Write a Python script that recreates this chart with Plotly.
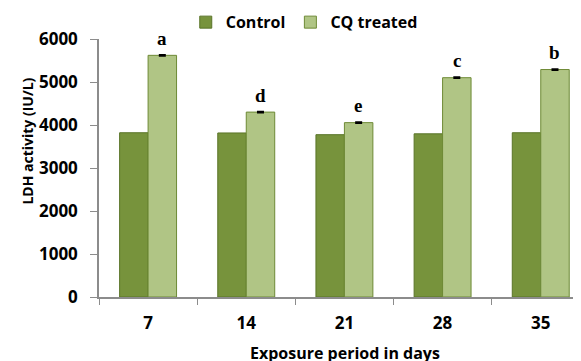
import plotly.graph_objects as go

days = ["7", "14", "21", "28", "35"]
control = [3820, 3815, 3775, 3795, 3820]
cq_treated = [5620, 4300, 4055, 5100, 5290]
cq_err = [15, 15, 15, 15, 15]
letters = ["a", "d", "e", "c", "b"]
y_ticks = [0, 1000, 2000, 3000, 4000, 5000, 6000]

FONT = "Open Sans"
fig = go.Figure()
fig.add_trace(go.Bar(
    x=days, y=control, name="Control",
    marker=dict(color="#77933C", line=dict(color="#5A7428", width=1)),
))
fig.add_trace(go.Bar(
    x=days, y=cq_treated, name="CQ treated",
    marker=dict(color="#B0C585", line=dict(color="#6E8A36", width=1)),
    error_y=dict(type="data", array=cq_err, visible=True, color="black", thickness=1.5, width=3.5),
))

for i, (v, l) in enumerate(zip(cq_treated, letters)):
    fig.add_annotation(x=i, y=v, text="<b>" + l + "</b>", showarrow=False, xshift=14, yshift=17,
                       yanchor="middle", font=dict(family="Liberation Serif", size=19, color="black"))

fig.add_annotation(xref="paper", yref="paper", x=-0.149, y=0.603, text="LDH activity (IU/L)",
                   textangle=-90, showarrow=False, xanchor="center", yanchor="middle",
                   font=dict(family=FONT, size=14, color="black", weight="bold"))
fig.add_annotation(xref="paper", yref="paper", x=0.51, y=-0.218, text="Exposure period in days",
                   showarrow=False, xanchor="center", yanchor="middle",
                   font=dict(family=FONT, size=16, color="black", weight="bold"))

# page body adds an 8px offset, so the figure is sized and placed to compensate
fig.update_layout(
    width=573, height=353,
    margin=dict(l=91, r=0, t=31, b=64, autoexpand=False),
    plot_bgcolor="white", paper_bgcolor="white",
    barmode="group", bargap=0.42, bargroupgap=0,
    font=dict(family=FONT, size=17, color="black", weight="bold"),
    showlegend=True,
    legend=dict(orientation="h", x=0.18, y=1.065, xanchor="left", yanchor="middle",
                font=dict(family=FONT, size=16, color="black", weight="bold"),
                itemwidth=30, tracegroupgap=0),
    xaxis=dict(range=[-0.5, 4.41], showline=True, linecolor="#8C8C8C", linewidth=1.5,
               ticks="outside", tickson="boundaries", ticklen=6, tickcolor="#8C8C8C",
               ticklabelstandoff=10, showgrid=False),
    yaxis=dict(range=[0, 6000], tickvals=y_ticks, showline=True, linecolor="#8C8C8C", linewidth=1.5,
               ticks="outside", ticklen=7, tickcolor="#8C8C8C", showgrid=False, zeroline=False,
               ticklabelstandoff=9),
)
fig.write_html("out.html")
